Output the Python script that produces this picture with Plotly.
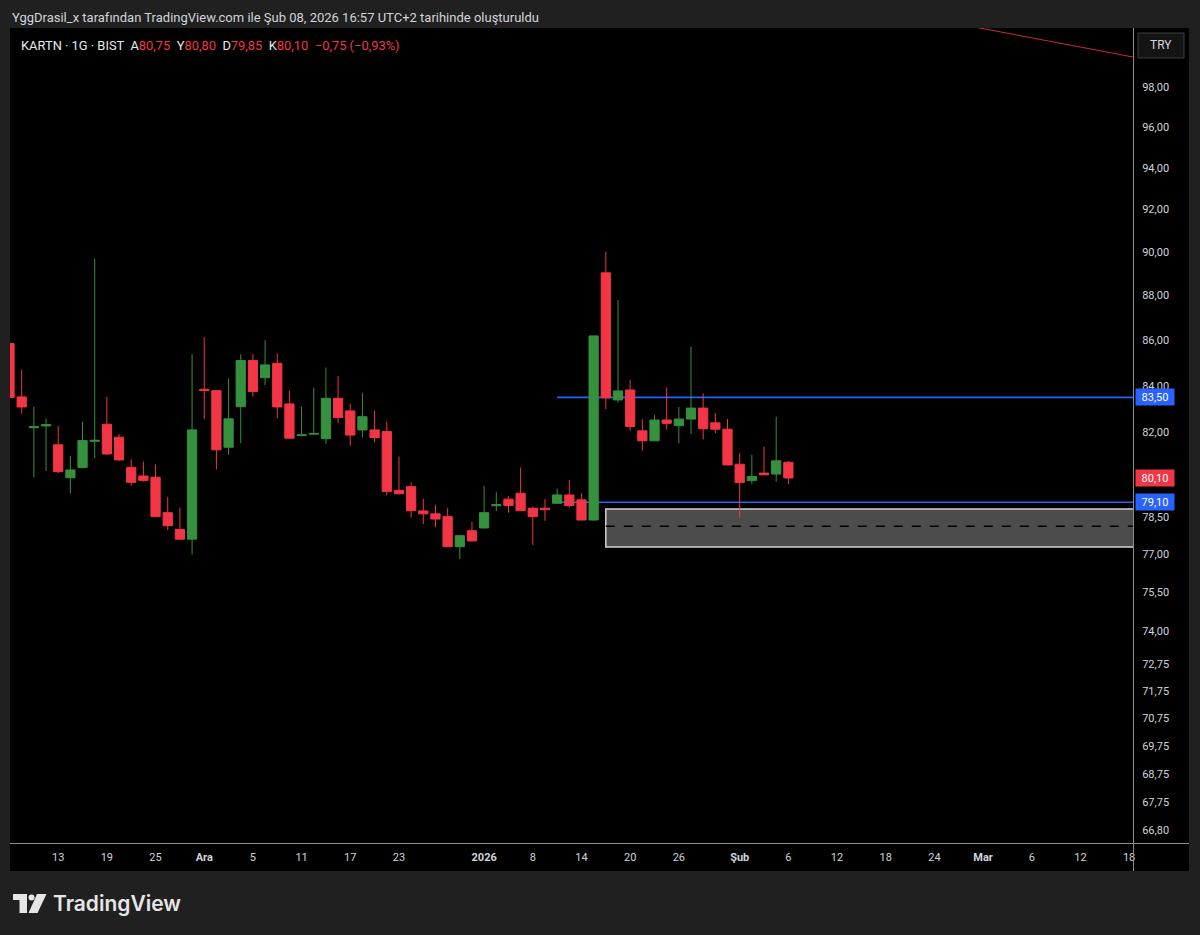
import math
import plotly.graph_objects as go

# ---------------- data ----------------
dates = [
    "2025-11-07", "2025-11-10", "2025-11-11", "2025-11-12", "2025-11-13", "2025-11-14",
    "2025-11-17", "2025-11-18", "2025-11-19", "2025-11-20", "2025-11-21",
    "2025-11-24", "2025-11-25", "2025-11-26", "2025-11-27", "2025-11-28",
    "2025-12-01", "2025-12-02", "2025-12-03", "2025-12-04", "2025-12-05",
    "2025-12-08", "2025-12-09", "2025-12-10", "2025-12-11", "2025-12-12",
    "2025-12-15", "2025-12-16", "2025-12-17", "2025-12-18", "2025-12-19",
    "2025-12-22", "2025-12-23", "2025-12-24", "2025-12-25", "2025-12-26",
    "2025-12-29", "2025-12-30", "2025-12-31", "2026-01-02",
    "2026-01-05", "2026-01-06", "2026-01-07", "2026-01-08", "2026-01-09",
    "2026-01-12", "2026-01-13", "2026-01-14", "2026-01-15", "2026-01-16",
    "2026-01-19", "2026-01-20", "2026-01-21", "2026-01-22", "2026-01-23",
    "2026-01-26", "2026-01-27", "2026-01-28", "2026-01-29", "2026-01-30",
    "2026-02-02", "2026-02-03", "2026-02-04", "2026-02-05", "2026-02-06",
]
opens = [
    85.85, 83.52, 82.20, 82.28, 81.48, 80.11, 80.53, 81.63, 82.35, 81.80, 80.54,
    80.18, 80.13, 78.68, 78.00, 77.61,
    83.85, 83.79, 81.38, 83.10, 85.10, 84.35, 84.98, 83.22, 81.87, 81.93,
    81.74, 83.46, 82.92, 82.11, 82.11, 82.04, 79.59, 79.74, 78.75, 78.63,
    78.52, 77.31, 77.95, 78.06,
    78.96, 79.23, 79.47, 78.86, 78.86, 79.06, 79.40, 79.20, 78.38, 89.04,
    83.39, 83.82, 82.07, 81.65, 82.53, 82.29, 82.57, 83.04, 82.41, 82.14,
    80.67, 79.99, 80.30, 80.26, 80.75,
]
highs = [
    85.90, 84.69, 83.10, 82.60, 82.28, 81.02, 82.46, 89.70, 83.52, 81.93, 80.87,
    80.78, 80.67, 79.31, 78.88, 85.38,
    86.13, 83.80, 84.32, 85.38, 85.38, 86.00, 85.42, 83.79, 83.10, 83.92,
    84.79, 84.42, 83.22, 83.70, 82.93, 82.46, 80.99, 79.92, 79.24, 79.00,
    78.86, 77.75, 78.31, 79.77,
    79.52, 79.34, 80.53, 78.93, 79.23, 79.66, 80.02, 79.47, 86.20, 90.02,
    87.80, 84.25, 82.56, 82.74, 83.93, 83.09, 85.71, 83.67, 82.84, 82.57,
    81.13, 81.06, 81.41, 82.67, 80.80,
]
lows = [
    83.45, 82.81, 80.13, 80.39, 80.30, 79.47, 80.50, 80.92, 81.05, 80.80, 79.78,
    79.95, 78.50, 77.98, 77.60, 77.00,
    82.57, 80.46, 81.06, 81.55, 83.53, 84.03, 82.60, 81.74, 81.85, 81.91,
    81.52, 82.41, 81.44, 81.79, 81.58, 79.38, 79.43, 78.48, 78.22, 78.09,
    77.30, 76.82, 77.53, 78.04,
    78.74, 78.68, 78.75, 77.38, 78.35, 79.05, 78.89, 78.37, 78.35, 82.99,
    83.28, 82.08, 81.24, 81.64, 82.13, 81.55, 81.93, 81.71, 81.97, 80.63,
    78.46, 79.86, 80.22, 79.95, 79.85,
]
closes = [
    83.50, 83.09, 82.25, 82.33, 80.36, 80.43, 81.66, 81.67, 81.10, 80.85, 79.92,
    80.00, 78.52, 78.15, 77.61, 82.11,
    83.80, 81.27, 82.58, 85.10, 83.75, 84.91, 83.09, 81.76, 81.90, 81.96,
    83.46, 82.64, 81.89, 82.67, 81.79, 79.54, 79.45, 78.76, 78.63, 78.42,
    77.31, 77.75, 77.54, 78.68,
    79.00, 78.97, 78.76, 78.52, 78.80, 79.40, 78.97, 78.38, 86.19, 83.48,
    83.78, 82.25, 81.65, 82.53, 82.39, 82.57, 83.04, 82.16, 82.14, 80.64,
    79.91, 80.16, 80.23, 80.81, 80.10,
]

x_tick_dates = [
    "2025-11-13", "2025-11-19", "2025-11-25", "2025-12-01", "2025-12-05", "2025-12-11",
    "2025-12-17", "2025-12-23", "2026-01-02", "2026-01-08", "2026-01-14", "2026-01-20",
    "2026-01-26", "2026-02-02", "2026-02-06", "2026-02-12", "2026-02-18", "2026-02-24",
    "2026-03-02", "2026-03-06", "2026-03-12", "2026-03-18",
]
x_tick_labels = [
    "13", "19", "25", "<b>Ara</b>", "5", "11", "17", "23", "<b>2026</b>", "8", "14", "20",
    "26", "<b>Şub</b>", "6", "12", "18", "24", "<b>Mar</b>", "6", "12", "18",
]
y_tick_vals = [98, 96, 94, 92, 90, 88, 86, 84, 82, 78.5, 77, 75.5, 74, 72.75,
               71.75, 70.75, 69.75, 68.75, 67.75, 66.8]
y_tick_labels = ["98,00", "96,00", "94,00", "92,00", "90,00", "88,00", "86,00", "84,00",
                 "82,00", "78,50", "77,00", "75,50", "74,00", "72,75", "71,75", "70,75",
                 "69,75", "68,75", "67,75", "66,80"]

holidays = ["2026-01-01"]
level_start = "2026-01-12"
level_high = 83.50
level_low = 79.10
last_price = 80.10
zone_start = "2026-01-16"
zone_top = 78.83
zone_bottom = 77.30
zone_mid = 78.13
trend_dates = ["2026-02-20", "2026-03-20"]
trend_prices = [101.72, 99.33]

# ---------------- styling / layout ----------------
W, H = 1200, 935
L, R, T, B = 10, 1133, 28, 843
RED = "#f23645"
GREEN = "#36913f"
BLUE = "#2962ff"
TXT = "#d1d4dc"
FONT = "Roboto"


def px(x):
    return (x - L) / (R - L)


def py(y):
    return (B - y) / (B - T)


x_range = ["2025-11-07 12:56", "2026-03-18 19:41"]
y_range = [math.log10(66.35), math.log10(101.03)]
far_right = "2026-04-30 12:00"

fig = go.Figure()
fig.add_trace(go.Candlestick(
    x=[d + " 12:00" for d in dates], open=opens, high=highs, low=lows, close=closes,
    increasing=dict(line=dict(color=GREEN, width=1), fillcolor=GREEN),
    decreasing=dict(line=dict(color=RED, width=1), fillcolor=RED),
    whiskerwidth=0, showlegend=False, hoverinfo="skip",
))

shapes = []
# black chart panel including axes
shapes.append(dict(type="rect", xref="paper", yref="paper", x0=0, x1=px(1189),
                   y0=py(871), y1=1, fillcolor="#000000", line=dict(width=0), layer="below"))
# zone rectangle and dashed mid line
shapes.append(dict(type="rect", xref="x", yref="y", x0=zone_start + " 12:00", x1=far_right,
                   y0=zone_bottom, y1=zone_top, fillcolor="#4c4c4c",
                   line=dict(color="#d4d4d4", width=1.5), layer="below"))
shapes.append(dict(type="line", xref="x", yref="y", x0=zone_start + " 12:00", x1=far_right,
                   y0=zone_mid, y1=zone_mid, line=dict(color="#000000", width=1.5, dash="dash"),
                   layer="below"))
# horizontal levels
for lv in (level_high, level_low):
    shapes.append(dict(type="line", xref="x", yref="y", x0=level_start + " 12:00", x1=far_right,
                       y0=lv, y1=lv, line=dict(color=BLUE, width=1.6), layer="below"))
# trend line (red)
shapes.append(dict(type="line", xref="x", yref="y", x0=trend_dates[0] + " 12:00",
                   x1=trend_dates[1] + " 12:00", y0=trend_prices[0], y1=trend_prices[1],
                   line=dict(color="#c8283c", width=1), layer="above"))
# axis separators
shapes.append(dict(type="line", xref="paper", yref="paper", x0=px(1133.5), x1=px(1133.5),
                   y0=py(871), y1=1, line=dict(color="#8c8c8c", width=1), layer="above"))
shapes.append(dict(type="line", xref="paper", yref="paper", x0=0, x1=px(1189),
                   y0=py(843.5), y1=py(843.5), line=dict(color="#8c8c8c", width=1), layer="above"))
# TRY button
shapes.append(dict(type="rect", xref="paper", yref="paper", x0=px(1138), x1=px(1184),
                   y0=py(58), y1=py(33), fillcolor="#141414",
                   line=dict(color="#3c3c3c", width=1), layer="above"))
# TradingView logo
LOGO = "#e6e6e6"
shapes.append(dict(type="rect", xref="paper", yref="paper", x0=px(13), x1=px(27),
                   y0=py(900), y1=py(894), fillcolor=LOGO, line=dict(width=0)))
shapes.append(dict(type="rect", xref="paper", yref="paper", x0=px(19.5), x1=px(27),
                   y0=py(913), y1=py(894), fillcolor=LOGO, line=dict(width=0)))
shapes.append(dict(type="circle", xref="paper", yref="paper", x0=px(28.5), x1=px(34.5),
                   y0=py(900.5), y1=py(894.5), fillcolor=LOGO, line=dict(width=0)))
shapes.append(dict(type="path", xref="paper", yref="paper",
                   path="M {a},{b} L {c},{b} L {d},{e} L {f},{e} Z".format(
                       a=px(37), b=py(894), c=px(46.5), d=px(37.5), e=py(913), f=px(28.5)),
                   fillcolor=LOGO, line=dict(width=0)))

annotations = []
annotations.append(dict(xref="paper", yref="paper", x=px(10), y=py(17), xanchor="left",
                        yanchor="middle", showarrow=False,
                        text="YggDrasil_x tarafından TradingView.com ile Şub 08, 2026 16:57 UTC+2 tarihinde oluşturuldu",
                        font=dict(family=FONT, size=13, color=TXT)))
red = lambda s: "<span style='color:%s'>%s</span>" % (RED, s)
legend_text = ("KARTN · 1G · BIST  A" + red("80,75") + "  Y" + red("80,80") + "  D" + red("79,85")
               + "  K" + red("80,10") + "  " + red("−0,75 (−0,93%)"))
annotations.append(dict(xref="paper", yref="paper", x=px(19), y=py(45.5), xanchor="left",
                        yanchor="middle", showarrow=False, text=legend_text,
                        font=dict(family=FONT, size=12.9, color="#e8e8e8")))
for val, txt, col in ((level_high, "83,50", BLUE), (last_price, "80,10", RED), (level_low, "79,10", BLUE)):
    annotations.append(dict(xref="paper", yref="y", x=px(1134.5), y=math.log10(val), xanchor="left",
                            yanchor="middle", showarrow=False, text=txt, bgcolor=col,
                            width=36, height=14, borderpad=1, align="center",
                            font=dict(family=FONT, size=11, color="#ffffff")))
annotations.append(dict(xref="paper", yref="paper", x=px(1161), y=py(45.5), xanchor="center",
                        yanchor="middle", showarrow=False, text="TRY",
                        font=dict(family=FONT, size=12, color=TXT)))
annotations.append(dict(xref="paper", yref="paper", x=px(51), y=py(903.5), xanchor="left",
                        yanchor="middle", showarrow=False, text="TradingView",
                        font=dict(family="Inter", size=21, color=LOGO, weight=600)))

fig.update_layout(
    width=W, height=H, autosize=False,
    margin=dict(l=L, r=W - R, t=T, b=H - B, pad=0),
    paper_bgcolor="#202020", plot_bgcolor="#000000",
    showlegend=False, boxgap=0.24, boxgroupgap=0,
    shapes=shapes, annotations=annotations,
    xaxis=dict(type="date", range=x_range,
               rangebreaks=[dict(bounds=["sat", "mon"]), dict(values=holidays)],
               rangeslider=dict(visible=False), tickmode="array",
               tickvals=[d + " 12:00" for d in x_tick_dates], ticktext=x_tick_labels,
               showgrid=False, zeroline=False, showline=False,
               ticks="outside", ticklen=4, tickcolor="rgba(0,0,0,0)",
               tickfont=dict(family=FONT, size=11, color=TXT)),
    yaxis=dict(type="log", range=y_range, side="right", tickmode="array",
               tickvals=y_tick_vals, ticktext=y_tick_labels,
               showgrid=False, zeroline=False, showline=False,
               ticks="outside", ticklen=6, tickcolor="rgba(0,0,0,0)",
               tickfont=dict(family=FONT, size=11, color=TXT)),
)

fig.write_html("out.html")
